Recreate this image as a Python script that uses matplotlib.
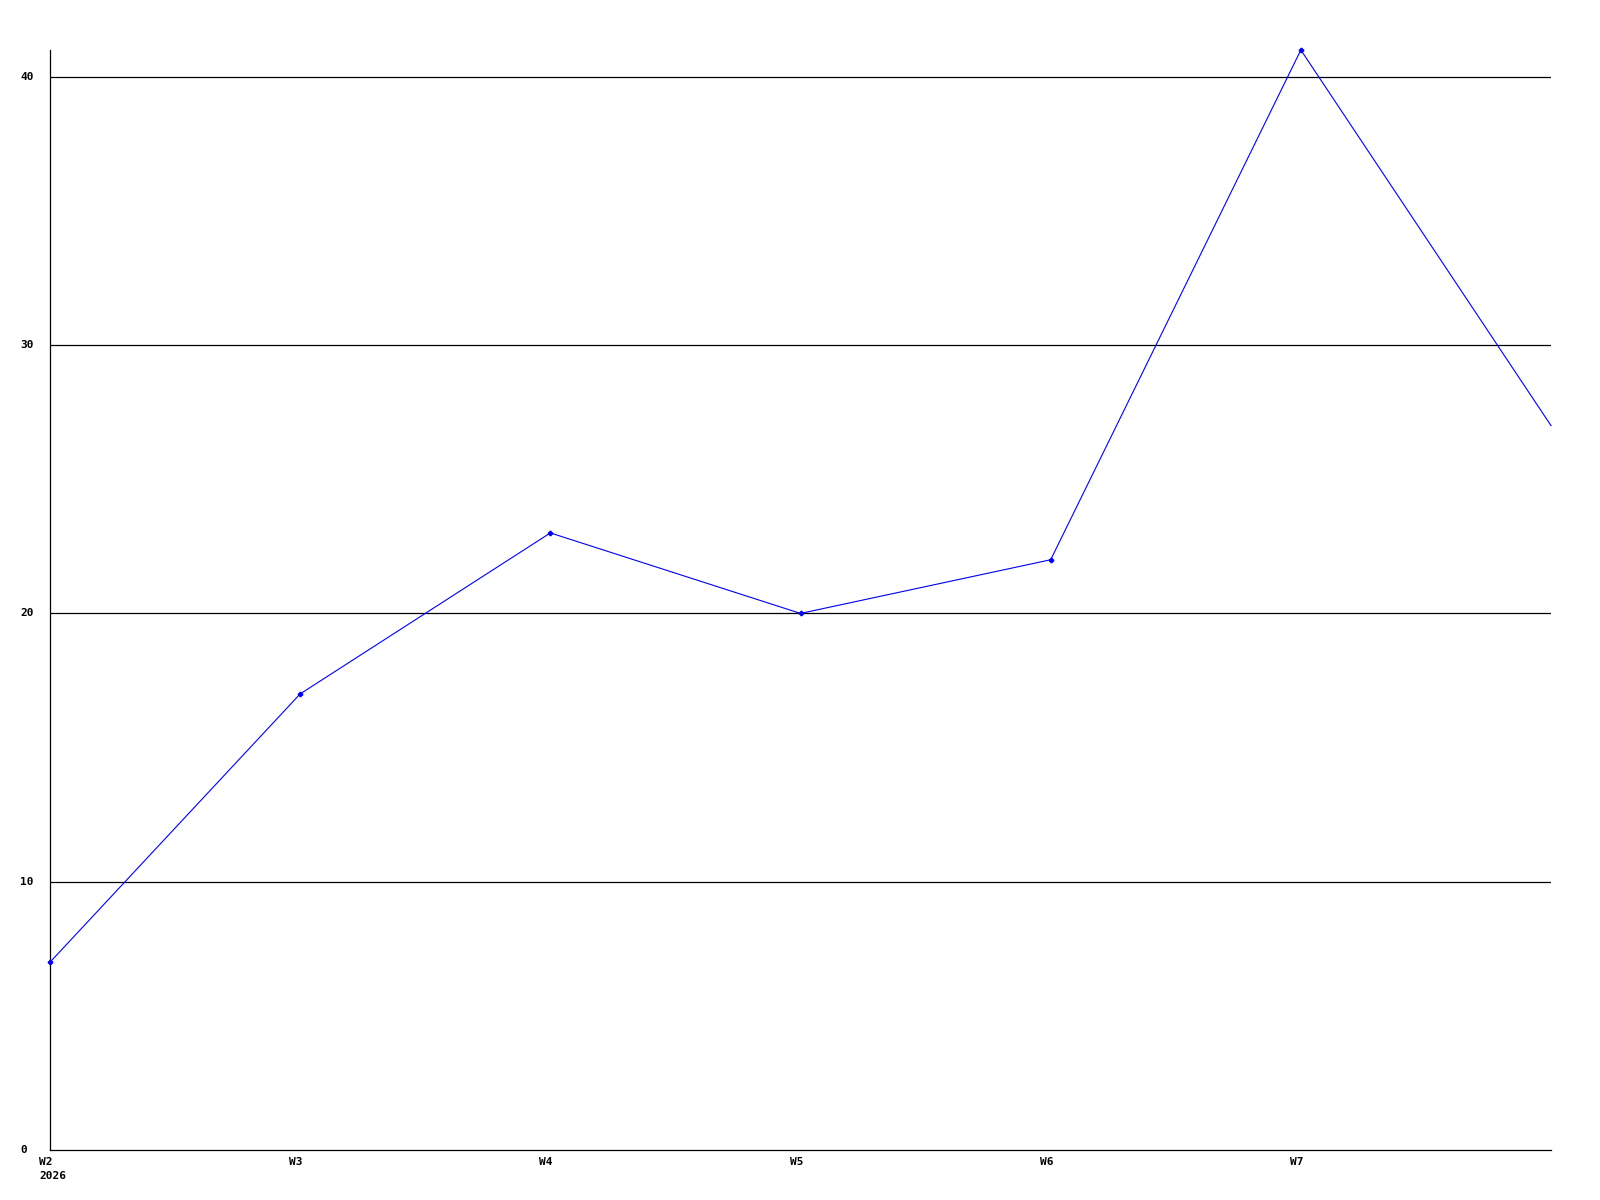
import matplotlib
matplotlib.use("Agg")
import matplotlib.pyplot as plt
import matplotlib.transforms as mtransforms

# weekly values, last point sits on the right edge
weeks = ["W2\n2026", "W3", "W4", "W5", "W6", "W7", ""]
values = [7, 17, 23, 20, 22, 41, 27]
y_ticks = [0, 10, 20, 30, 40]

plt.rcParams['font.family'] = ['DejaVu Sans Mono']

fig = plt.figure(figsize=(16, 12), dpi=100)
ax = fig.add_axes([50 / 1600, 50 / 1200, 1501 / 1600, 1100 / 1200])

x = list(range(len(values)))
ax.plot(x, values, color='#0000ff', linewidth=0.8, marker='P', markersize=3,
        markevery=slice(0, len(values) - 1), clip_on=False, zorder=3)

ax.set_xlim(0, len(values) - 1)
ax.set_ylim(0, 41)

for v in y_ticks[1:]:
    ax.axhline(v, color='black', linewidth=0.9, zorder=1)

ax.set_yticks(y_ticks)
ax.set_yticklabels([str(v) for v in y_ticks], fontsize=8, fontweight='bold')
ax.set_xticks(x)
ax.set_xticklabels(weeks, fontsize=8, fontweight='bold', linespacing=1.5)
ax.tick_params(axis='both', length=0)
ax.tick_params(axis='x', pad=5)
ax.tick_params(axis='y', pad=0)

offset = mtransforms.ScaledTranslation(-11 / 100, 0, fig.dpi_scale_trans)
for lab in ax.get_xticklabels():
    lab.set_horizontalalignment('left')
    lab.set_multialignment('left')
    lab.set_transform(lab.get_transform() + offset)

# y labels are left aligned in a column 30px left of the axis
y_offset = mtransforms.ScaledTranslation(-30 / 100, 0, fig.dpi_scale_trans)
for lab in ax.get_yticklabels():
    lab.set_verticalalignment('center')
    lab.set_horizontalalignment('left')
    lab.set_transform(lab.get_transform() + y_offset)

ax.spines['top'].set_visible(False)
ax.spines['right'].set_visible(False)
ax.spines['left'].set_linewidth(0.9)
ax.spines['bottom'].set_linewidth(0.9)

fig.savefig("out.png", dpi=100)
